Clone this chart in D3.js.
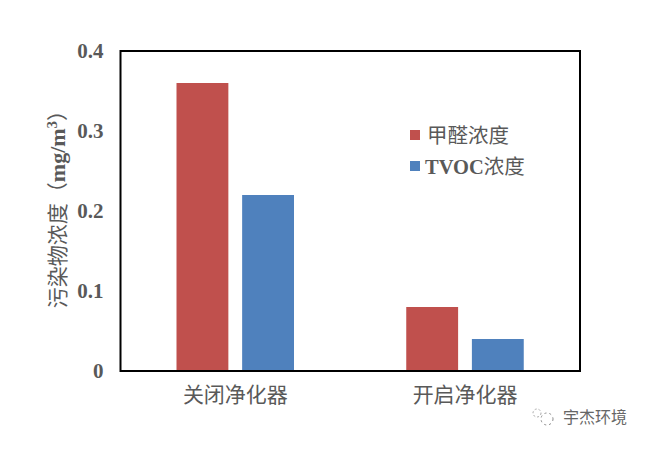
<!DOCTYPE html>
<html>
<head>
<meta charset="utf-8">
<script src="https://cdn.jsdelivr.net/npm/d3@7"></script>
<style>
  html, body { margin: 0; padding: 0; background: #fff; }
  text { font-family: "Liberation Serif", "Noto Sans CJK SC", serif; fill: #595959; }
</style>
</head>
<body>
<div id="chart"></div>
<script>
// data
const categories = ['关闭净化器', '开启净化器'];
const seriesNames = ['甲醛浓度', 'TVOC浓度'];
const formaldehyde = [0.36, 0.08];
const tvoc = [0.22, 0.04];
const yTicks = [0, 0.1, 0.2, 0.3, 0.4];
const colors = ['#c0504d', '#4f81bd'];

const margin = { top: 51, right: 77, bottom: 80, left: 120.5 },
  width = 657 - margin.left - margin.right,
  height = 451 - margin.top - margin.bottom;

const svg = d3
  .select('#chart')
  .append('svg')
  .attr('width', 657)
  .attr('height', 451)
  .style('display', 'block');

const g = svg.append('g').attr('transform', `translate(${margin.left}, ${margin.top})`);

const x = d3.scaleBand().domain(categories).range([0, width]);
const xInner = d3
  .scaleBand()
  .domain(seriesNames)
  .range([56, 173.5])
  .paddingInner(0.21);
const y = d3.scaleLinear().domain([0, 0.4]).range([height, 0]);

// bars
[formaldehyde, tvoc].forEach((values, i) => {
  g.append('g')
    .selectAll('rect')
    .data(values)
    .enter()
    .append('rect')
    .attr('x', (d, j) => x(categories[j]) + xInner(seriesNames[i]))
    .attr('y', d => y(d))
    .attr('width', xInner.bandwidth())
    .attr('height', d => height - y(d))
    .attr('fill', colors[i]);
});

// plot frame
g.append('rect')
  .attr('width', width)
  .attr('height', height)
  .attr('fill', 'none')
  .attr('stroke', '#000')
  .attr('stroke-width', 2);

// y axis
const yAxis = g
  .append('g')
  .call(d3.axisLeft(y).tickValues(yTicks).tickSize(0).tickPadding(17).tickFormat(d => (d === 0 ? '0' : d3.format('.1f')(d))));
yAxis.select('.domain').remove();
yAxis.selectAll('text').style('font-size', '21px').style('font-weight', 'bold').attr('dy', '0.3em');

// x axis
const xAxis = g
  .append('g')
  .attr('transform', `translate(0, ${height})`)
  .call(d3.axisBottom(x).tickSize(0).tickPadding(16));
xAxis.select('.domain').remove();
xAxis.selectAll('text').style('font-size', '21px').attr('dy', '0.7em');

// y axis title
const yTitle = svg
  .append('text')
  .attr('transform', 'translate(65, 204) rotate(-90)')
  .attr('text-anchor', 'middle')
  .style('font-size', '21px');
yTitle.append('tspan').text('污染物浓度（');
yTitle.append('tspan').style('font-weight', 'bold').style('font-size', '22px').text('mg/m');
yTitle.append('tspan').style('font-weight', 'bold').style('font-size', '15px').attr('dy', -8).text('3');
yTitle.append('tspan').attr('dy', 8).text('）');

// legend
const legend = svg
  .append('g')
  .selectAll('g')
  .data(seriesNames)
  .enter()
  .append('g')
  .attr('transform', (d, i) => `translate(410, ${130 + i * 31})`);
legend
  .append('rect')
  .attr('width', 10)
  .attr('height', 10)
  .attr('fill', (d, i) => colors[i]);
const legendText = legend
  .append('text')
  .attr('x', d => (d === 'TVOC浓度' ? 15 : 17))
  .attr('y', 13)
  .style('font-size', '20.5px');
legendText
  .append('tspan')
  .style('font-weight', 'bold')
  .text(d => (d === 'TVOC浓度' ? 'TVOC' : ''));
legendText.append('tspan').text(d => d.replace('TVOC', ''));

// watermark
const mark = svg.append('g').attr('transform', 'translate(545, 417)');
mark
  .append('circle')
  .attr('cx', 2)
  .attr('cy', 2)
  .attr('r', 6)
  .attr('fill', 'none')
  .attr('stroke', '#888')
  .attr('stroke-width', 1)
  .attr('stroke-dasharray', '2 3');
mark
  .append('circle')
  .attr('cx', -8)
  .attr('cy', -4)
  .attr('r', 4)
  .attr('fill', 'none')
  .attr('stroke', '#aaa')
  .attr('stroke-width', 1)
  .attr('stroke-dasharray', '2 2');
mark
  .append('text')
  .attr('x', 18)
  .attr('y', 6)
  .style('font-family', '"Noto Sans CJK SC"')
  .style('font-size', '16px')
  .style('fill', '#666')
  .text('宇杰环境');
</script>
</body>
</html>
